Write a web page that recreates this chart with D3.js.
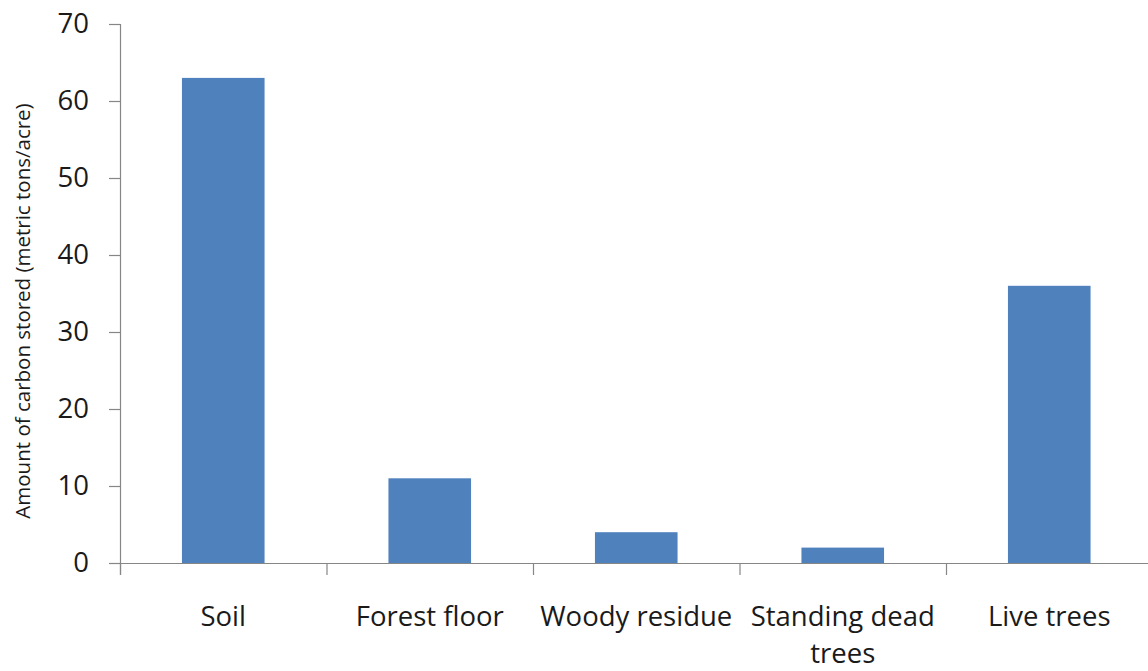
<!DOCTYPE html>
<html>
<head>
<meta charset="utf-8">
<script src="https://cdn.jsdelivr.net/npm/d3@7"></script>
<style>
  html, body { margin: 0; padding: 0; background: #fff; }
  svg { display: block; }
  text { font-family: "Open Sans", "Noto Sans", sans-serif; fill: #1a1a1a; }
</style>
</head>
<body>
<svg id="chart" width="1148" height="671"></svg>
<script>
// Carbon stored per forest pool (metric tons per acre)
const categories = ["Soil", "Forest floor", "Woody residue", "Standing dead trees", "Live trees"];
const values = [63, 11, 4, 2, 36];
const yTicks = [0, 10, 20, 30, 40, 50, 60, 70];
const yTitle = "Amount of carbon stored (metric tons/acre)";

const svg = d3.select("#chart");
const plotLeft = 120, plotBottom = 563, plotTop = 24;
const step = 206.5;
const plotRight = plotLeft + step * categories.length;

const x = d3.scaleBand().domain(categories).range([plotLeft, plotRight]).paddingInner(0).paddingOuter(0);
const xEdges = d3.scaleLinear().domain([0, categories.length]).range([plotLeft, plotRight]);
const y = d3.scaleLinear().domain([0, 70]).range([plotBottom, plotTop]);

const axisColor = "#868686";
const labelSize = 27.5;

// Y axis
const gy = svg.append("g")
  .attr("transform", `translate(${plotLeft},0)`)
  .call(d3.axisLeft(y).tickValues(yTicks).tickSize(11).tickSizeOuter(0).tickPadding(20));
gy.select(".domain").attr("stroke", axisColor).attr("stroke-width", 1.2)
  .attr("d", `M0.5,${plotTop}V${plotBottom + 12}`);
gy.selectAll(".tick line").attr("stroke", axisColor).attr("stroke-width", 1.2);
gy.selectAll(".tick text").attr("font-size", labelSize).attr("fill", "#1a1a1a")
  .attr("font-family", "'Open Sans', sans-serif");

// X axis: tick marks fall on category boundaries
const gx = svg.append("g")
  .attr("transform", `translate(0,${plotBottom})`)
  .call(d3.axisBottom(xEdges).ticks(categories.length).tickFormat("").tickSize(12).tickSizeOuter(0));
gx.select(".domain").attr("stroke", axisColor).attr("stroke-width", 1.2);
gx.selectAll(".tick line").attr("stroke", axisColor).attr("stroke-width", 1.2);

// Bars
const barW = x.bandwidth() * 0.4;
svg.append("g").selectAll("rect")
  .data(categories)
  .join("rect")
  .attr("x", (d) => x(d) + (x.bandwidth() - barW) / 2)
  .attr("width", barW)
  .attr("y", (d, i) => y(values[i]))
  .attr("height", (d, i) => y(0) - y(values[i]))
  .attr("fill", "#4F81BD");

// Category labels, wrapped to the width of each band
const labels = svg.append("g").selectAll("text")
  .data(categories)
  .join("text")
  .attr("x", (d) => x(d) + x.bandwidth() / 2)
  .attr("y", 626)
  .attr("text-anchor", "middle")
  .attr("font-size", labelSize);

labels.each(function (d) {
  const t = d3.select(this);
  const cx = x(d) + x.bandwidth() / 2;
  const words = d.split(" ");
  let line = [];
  let tspan = t.append("tspan").attr("x", cx).attr("dy", 0);
  for (const w of words) {
    line.push(w);
    tspan.text(line.join(" "));
    if (tspan.node().getComputedTextLength() > x.bandwidth() + 4 && line.length > 1) {
      line.pop();
      tspan.text(line.join(" "));
      line = [w];
      tspan = t.append("tspan").attr("x", cx).attr("dy", 37).text(w);
    }
  }
});

// Y axis title
svg.append("text")
  .attr("transform", `translate(30,311) rotate(-90)`)
  .attr("text-anchor", "middle")
  .attr("font-size", 20.5)
  .text(yTitle);
</script>
</body>
</html>
